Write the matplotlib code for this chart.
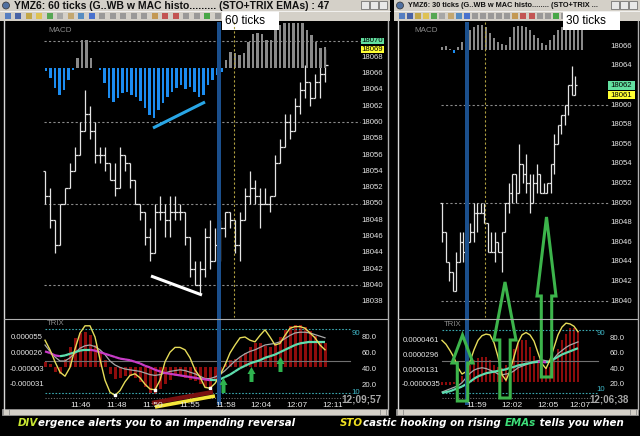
import matplotlib
matplotlib.use("Agg")
import matplotlib.pyplot as plt
import numpy as np
from matplotlib.collections import LineCollection
from matplotlib.patches import Rectangle, Polygon

W, H = 640, 436

# ---------- left window: 60 tick bars ----------
left_first_open = 18054
left_close = [18051, 18048, 18045, 18050, 18052, 18054, 18056, 18059, 18061, 18059,
              18056, 18056, 18055, 18053, 18052, 18056, 18055, 18053, 18050, 18049,
              18046, 18044, 18049, 18049, 18048, 18049, 18049, 18049, 18046, 18042,
              18040, 18042, 18046, 18043, 18045, 18047, 18049, 18048, 18045, 18048,
              18051, 18052, 18051, 18050, 18050, 18051, 18055, 18057, 18060, 18059,
              18062, 18064, 18065, 18063, 18065, 18066, 18067]
left_high = [18054, 18052, 18047, 18050, 18052, 18055, 18057, 18060, 18064, 18062,
             18060, 18057, 18057, 18055, 18055, 18057, 18056, 18055, 18053, 18050,
             18049, 18047, 18050, 18051, 18050, 18051, 18051, 18050, 18048, 18046,
             18043, 18043, 18047, 18048, 18047, 18048, 18049, 18049, 18047, 18049,
             18052, 18054, 18053, 18052, 18052, 18051, 18056, 18058, 18061, 18061,
             18063, 18065, 18067, 18065, 18066, 18068, 18069]
left_low = [18050, 18047, 18044, 18047, 18050, 18052, 18054, 18056, 18059, 18058,
            18055, 18055, 18054, 18053, 18051, 18052, 18054, 18052, 18050, 18048,
            18045, 18043, 18044, 18048, 18046, 18046, 18048, 18048, 18045, 18041,
            18040, 18039, 18041, 18042, 18043, 18043, 18046, 18047, 18044, 18043,
            18048, 18050, 18050, 18047, 18050, 18049, 18051, 18055, 18057, 18058,
            18059, 18061, 18063, 18062, 18063, 18063, 18065]
left_macd = [-3, -10, -20, -27, -22, -12, -2, 10, 28, 28, 10, 0, -2, -15, -30, -34,
             -30, -25, -24, -27, -29, -33, -40, -47, -50, -42, -35, -29, -24, -20,
             -17, -21, -19, -24, -29, -27, -17, -12, -7, -4, 8, 16, 15, 13, 15, 26,
             34, 35, 34, 28, 28, 38, 43, 45, 45, 45, 45, 45, 38, 33, 26, 20, 21]
left_trix = [10, 6, -8, -12, 15, 37, 53, 62, 64, 59, 40, 26, 13, -12, -21, -19, -15,
             -15, -20, -26, -36, -47, -48, -39, -30, -22, -16, -15, -19, -22, -25,
             -30, -36, -35, -25, -8, 6, 14, 16, 18, 27, 37, 44, 45, 39, 37, 42, 56,
             68, 75, 77, 77, 74, 66, 57, 47, 44]
left_k = [76, 64, 49, 36, 31, 42, 65, 85, 94, 94, 80, 52, 26, 11, 7, 13, 24, 32, 34,
          29, 21, 15, 14, 26, 49, 61, 67, 67, 64, 54, 39, 30, 17, 16, 22, 32, 45, 60,
          70, 79, 80, 76, 74, 82, 89, 80, 70, 72, 82, 91, 93, 93, 91, 85, 79, 70, 64]
left_d = [70, 62, 55, 50, 50, 54, 60, 66, 69, 70, 68, 64, 58, 50, 45, 42, 40, 39, 38,
          37, 35, 33, 32, 33, 35, 37, 38, 39, 38, 36, 34, 31, 28, 28, 30, 33, 38, 44,
          50, 55, 59, 62, 64, 67, 70, 71, 72, 74, 78, 82, 85, 86, 86, 85, 83, 81, 79]
left_ema = [62, 60, 57, 56, 57, 59, 61, 63, 64, 64, 63, 61, 59, 57, 55, 53, 52, 51, 49,
            47, 44, 42, 39, 37, 35, 34, 33, 32, 31, 30, 29, 28, 27, 26, 26, 27, 30, 33,
            37, 41, 44, 47, 49, 51, 54, 56, 58, 61, 64, 67, 70, 72, 73, 74, 74, 74, 74]
left_times = ["11:46", "11:48", "11:50", "11:55", "11:58", "12:04", "12:07", "12:11"]
left_price_ticks = list(range(18038, 18069, 2))
left_trix_ticks = [55, 26, -3, -31]          # x 1e-6
left_trix_labels = ["0.000055", "0.000026", "-0.000003", "-0.000031"]

# ---------- right window: 30 tick bars ----------
right_first_open = 18050
right_close = [18047, 18044, 18043, 18041, 18044, 18046, 18045, 18046, 18047, 18049,
               18049, 18049, 18048, 18045, 18045, 18046, 18045, 18047, 18050, 18051,
               18053, 18051, 18054, 18053, 18052, 18050, 18052, 18053, 18051, 18051,
               18052, 18054, 18056, 18058, 18059, 18060, 18062, 18061, 18062]
right_high = [18050, 18047, 18044, 18043, 18045, 18047, 18047, 18046, 18048, 18050,
              18050, 18050, 18050, 18048, 18047, 18047, 18046, 18047, 18050, 18052,
              18053, 18053, 18056, 18054, 18055, 18053, 18053, 18054, 18053, 18052,
              18052, 18054, 18057, 18058, 18059, 18060, 18062, 18064, 18063]
right_low = [18046, 18044, 18042, 18041, 18041, 18044, 18044, 18043, 18046, 18046,
             18047, 18049, 18048, 18045, 18045, 18044, 18045, 18043, 18047, 18049,
             18050, 18050, 18051, 18052, 18051, 18049, 18050, 18051, 18051, 18051,
             18051, 18051, 18053, 18056, 18057, 18058, 18059, 18061, 18061]
right_macd = [3, 4, 1, -3, 3, 8, 15, 20, 23, 25, 25, 23, 17, 12, 8, 6, 5, 13, 23, 24,
              24, 23, 20, 15, 12, 7, 5, 10, 15, 20, 23, 25, 25, 25, 25, 25]
right_trix = [-3, -3, -3, -2, 2, 7, 11, 19, 24, 27, 28, 28, 24, 19, 16, 15, 19, 29, 37,
              43, 47, 46, 39, 29, 21, 16, 15, 17, 25, 37, 47, 53, 60, 60, 56]
right_k = [77, 72, 64, 55, 42, 34, 37, 50, 65, 77, 83, 85, 84, 74, 56, 33, 26, 38, 56,
           74, 84, 87, 84, 76, 61, 47, 41, 52, 68, 84, 94, 99, 98, 95, 88]
right_d = [11, 13, 15, 17, 19, 23, 29, 35, 39, 41, 42, 41, 39, 37, 34, 33, 34, 35, 38,
           42, 44, 46, 48, 50, 51, 52, 51, 50, 54, 60, 64, 68, 71, 73, 75]
right_ema = [10, 11, 12, 14, 16, 18, 21, 24, 28, 31, 33, 35, 36, 37, 38, 39, 40, 42, 43,
             45, 46, 47, 48, 49, 49.5, 49.2, 49, 50, 53, 56, 59, 61, 63, 65, 67]
right_times = ["11:59", "12:02", "12:05", "12:07"]
right_price_ticks = [p for p in range(18040, 18067, 2) if p != 18062]
right_trix_ticks = [46.1, 29.6, 13.1, -3.5]
right_trix_labels = ["0.0000461", "0.0000296", "0.0000131", "-0.0000035"]

stoch_ticks = [80, 60, 40, 20]

FONT = "Liberation Sans"
TXT = "#e6e6e6"
fig = plt.figure(figsize=(W / 100, H / 100), dpi=100, facecolor="black")


def px_axes(x0, y0, x1, y1, ylim):
    ax = fig.add_axes([x0 / W, 1 - y1 / H, (x1 - x0) / W, (y1 - y0) / H])
    ax.set_xlim(x0, x1)
    ax.set_ylim(*ylim)
    ax.set_axis_off()
    return ax


def ohlc(ax, x0, step, first_open, high, low, close):
    opens = [first_open] + list(close[:-1])
    segs = []
    for i, (o, h, l, c) in enumerate(zip(opens, high, low, close)):
        x = x0 + step * i
        segs.append([(x, min(l, o, c)), (x, max(h, o, c))])
        segs.append([(x - step * 0.5, o), (x, o)])
        segs.append([(x, c), (x + step * 0.5, c)])
    ax.add_collection(LineCollection(segs, colors="#e4e4e4", linewidths=0.9))


def macd_bars(ax, x0, step, vals):
    v = np.array(vals, dtype=float)
    xs = x0 + step * np.arange(len(v))
    cols = np.where(v >= 0, "#8a8a8a", "#1c8cf0")
    ax.bar(xs, v, width=step * 0.62, color=cols, linewidth=0)


def slope_line(ax, xs, vals):
    pts = np.column_stack([xs, vals])
    segs = np.stack([pts[:-1], pts[1:]], axis=1)
    cols = ["#5fe0b0" if b >= a else "#c83cc8" for a, b in zip(vals[:-1], vals[1:])]
    ax.add_collection(LineCollection(segs, colors=cols, linewidths=1.6))


def price_panel(x0, x1, ylim, mlim, bx0, bstep, fo, hi, lo, cl, mx0, mstep, macd,
                ticks, lab_x, dash_x1, levels, boxes, box_x):
    ax = px_axes(x0, 22, x1, 317, ylim)
    for lv in levels:
        ax.plot([bx0 - 1, dash_x1], [lv, lv], color="#8a8a8a", lw=0.8, ls=(0, (2, 2)))
    axm = px_axes(x0, 22, x1, 317, mlim)
    macd_bars(axm, mx0, mstep, macd)
    ohlc(ax, bx0, bstep, fo, hi, lo, cl)
    for p in ticks:
        ax.text(lab_x, p, str(p), color=TXT, fontsize=5.6, family=FONT,
                ha="center", va="center")
    for p, fc in boxes:
        ax.add_patch(Rectangle((box_x[0], p - 0.42), box_x[1] - box_x[0], 0.84,
                               fc=fc, ec="none", zorder=4))
        ax.text(lab_x, p, str(p), color="black", fontsize=5.6, family=FONT,
                ha="center", va="center", zorder=5)
    return ax


def indicator_panel(x0, x1, slim, tlim, ix0, istep, trix, k, d, ema, dash_x1,
                    tt, tl, tx, sx):
    axt = px_axes(x0, 320, x1, 399, tlim)
    xs = ix0 + istep * np.arange(len(trix))
    axt.bar(xs, trix, width=istep * 0.6, color="#8e0c0c", linewidth=0)
    for v, s in zip(tt, tl):
        axt.text(tx, v, s, color=TXT, fontsize=5.6, family=FONT, ha="center", va="center")
    axs = px_axes(x0, 320, x1, 399, slim)
    axs.plot([ix0, dash_x1], [50, 50], color="#707070", lw=0.8)
    for lv in (90, 10):
        axs.plot([ix0, dash_x1], [lv, lv], color="#3aa8b0", lw=0.8, ls=(0, (1.5, 1.5)))
    axs.plot([ix0, dash_x1 - 5], [slim[0] + 0.8] * 2, color="#707070", lw=0.8, ls=(0, (1, 1.5)))
    xs = ix0 + istep * np.arange(len(k))
    axs.plot(xs, d, color="#a8a8a8", lw=0.9)
    slope_line(axs, xs, ema)
    axs.plot(xs, k, color="#e6dc5a", lw=1.0)
    for v in stoch_ticks:
        axs.text(sx, v, f"{v:.1f}", color=TXT, fontsize=5.6, family=FONT,
                 ha="center", va="center")
    axs.text(ix0 + 2, 97, "TRIX", color="#8a8a8a", fontsize=5.6, family=FONT,
             ha="left", va="center")
    return axs, xs


# left window
price_panel(5, 388, (18036.13, 18072.33), (-249, 46), 45, 5, left_first_open,
            left_high, left_low, left_close, 46, 4.5, left_macd, left_price_ticks,
            372, 360, [18070, 18060, 18050, 18040],
            [(18070, "#63e0a0"), (18069, "#ffff33")], (361, 384))
axl, xl = indicator_panel(5, 388, (2.5, 101.25), (-57.2, 85.9), 45, 5, left_trix,
                          left_k, left_d, left_ema, 350, left_trix_ticks,
                          left_trix_labels, 27, 369)
lk = np.array(left_k)
mins = [i for i in range(1, len(lk) - 1) if lk[i] <= lk[i - 1] and lk[i] < lk[i + 1] and lk[i] < 30]
axl.scatter(xl[mins], lk[mins], s=4, marker="s", color="white", zorder=6)

# right window
price_panel(397, 637, (18038.37, 18068.47), (-267, 28), 442, 3.5, right_first_open,
            right_high, right_low, right_close, 442, 4, right_macd, right_price_ticks,
            621, 608, [18060, 18050, 18040],
            [(18062, "#63e0a0"), (18061, "#ffff33")], (608, 635))
indicator_panel(397, 637, (2.1, 103), (-19.1, 68.7), 442, 4, right_trix, right_k,
                right_d, right_ema, 598, right_trix_ticks, right_trix_labels, 421, 617)

# ---------- overlay in pixel coordinates ----------
ov = fig.add_axes([0, 0, 1, 1], zorder=10)
ov.set_xlim(0, W)
ov.set_ylim(H, 0)
ov.set_axis_off()
ov.patch.set_alpha(0)
renderer = fig.canvas.get_renderer()


def text_width(s, size, **style):
    t = ov.text(0, 0, s, fontsize=size, **style)
    w = t.get_window_extent(renderer).width
    t.remove()
    return w


def fitted_text(x, y, s, width, **style):
    size = 10 * width / text_width(s, 10, **style)
    ov.text(x, y, s, fontsize=size, **style)


GREY = "#d4d0c8"
for x0, x1 in ((0, 390), (394, 640)):
    ov.add_patch(Rectangle((x0, 0), x1 - x0, 21, fc=GREY, ec="none"))
    ov.add_patch(Rectangle((x0 + 2, 409), x1 - x0 - 4, 6, fc=GREY, ec="#9a9a9a", lw=0.5))
    ov.add_patch(Rectangle((x0 + 3, 409), 6, 6, fc=GREY, ec="#808080", lw=0.5))
    ov.add_patch(Rectangle((x1 - 10, 409), 6, 6, fc=GREY, ec="#808080", lw=0.5))
    ov.plot([x0 + 4, x0 + 4], [21, 409], color="#d8d8d8", lw=1.0)
    ov.plot([x1 - 2, x1 - 2], [21, 409], color="#b0b0b0", lw=1.0)
    ov.plot([x0 + 4, x1 - 2], [318.5, 318.5], color="#b0b0b0", lw=0.8)
    ov.plot([x0, x1], [11, 11], color="#ffffff", lw=0.5)
    ov.add_patch(plt.Circle((x0 + 6, 5.5), 3.5, fc="#5070a0", ec="#303030", lw=0.5))
    for j in range(3):
        bx = x1 - 29 + 9 * j
        ov.add_patch(Rectangle((bx, 1.5), 8, 8, fc="#e8e8e8", ec="#606060", lw=0.5))
    icon_cols = ["#4070c0", "#3050a0", "#c0a030", "#e0c040", "#40a040", "#a0a0a0",
                 "#c0a060", "#4080c0", "#3060d0", "#909090", "#909090", "#909090",
                 "#909090", "#909090", "#c09040", "#c04040", "#c04040", "#909090",
                 "#909090", "#30a030", "#909090"]
    span = 220 if x0 == 0 else 170
    for j, c in enumerate(icon_cols):
        ix = x0 + 5 + j * span / len(icon_cols)
        if ix > x0 + span:
            break
        ov.add_patch(Rectangle((ix, 13), 6, 6, fc=c, ec="none", alpha=0.85))

title_style = dict(family=FONT, fontweight="bold", color="#101010", va="center")
fitted_text(14, 5.8, "YMZ6: 60 ticks (G..WB w MAC histo......... (STO+TRIX EMAs) : 47",
            316, **title_style)
fitted_text(408, 5.8, "YMZ6: 30 ticks (G..WB w MAC histo........ (STO+TRIX ...",
            190, **title_style)

for bx, label in ((222, "60 ticks"), (563, "30 ticks")):
    ov.add_patch(Rectangle((bx, 12), 57, 18, fc="white", ec="none"))
    ov.text(bx + 3, 21.5, label, fontsize=8.5, family=FONT, color="black", va="center")

for x, y in ((48, 30), (414, 30)):
    ov.text(x, y, "MACD", fontsize=5.8, family=FONT, color="#8a8a8a", va="center")

# entry bands and cursor lines
for bx, cx in ((217, 234), (465, 485)):
    ov.add_patch(Rectangle((bx, 22), 4, 383, fc="#1b4f8c", ec="none"))
    ov.plot([cx, cx], [22, 317], color="#b0a040", lw=0.8, ls=(0, (2, 2)))

# stochastic 90/10 tags and time stamps
for x in (356, 601):
    ov.text(x, 333, "90", fontsize=5.6, family=FONT, color="#3fb8c8", ha="center", va="center")
ov.text(356, 392, "10", fontsize=5.6, family=FONT, color="#3fb8c8", ha="center", va="center")
ov.text(601, 389, "10", fontsize=5.6, family=FONT, color="#3fb8c8", ha="center", va="center")
ov.text(362, 399.5, "12;09;57", fontsize=7.2, family=FONT, fontweight="bold",
        color="#a8a8a8", ha="center", va="center")
ov.text(609, 399.5, "12;06;38", fontsize=7, family=FONT, fontweight="bold",
        color="#a8a8a8", ha="center", va="center")

left_time_x = [81, 117, 153, 190, 226, 261, 297, 333]
right_time_x = [477, 512, 548, 580]
for x, t in zip(left_time_x, left_times):
    ov.text(x, 405, t, fontsize=6, family=FONT, color=TXT, ha="center", va="center")
for x, t in zip(right_time_x, right_times):
    ov.text(x, 405.5, t, fontsize=6, family=FONT, color=TXT, ha="center", va="center")

# divergence trend lines
ov.plot([153, 205], [128, 102], color="#29a6e6", lw=2.2, solid_capstyle="butt")
ov.plot([151, 202], [276, 295], color="white", lw=2.2, solid_capstyle="butt")
ov.plot([152, 213], [403, 392], color="#7a1010", lw=3.2, solid_capstyle="butt")
ov.plot([155, 215], [407, 396], color="#f5e63a", lw=2.6, solid_capstyle="butt")


def up_arrow(x, tip, base, bottom, head, shaft):
    return [(x, tip), (x + head, base), (x + shaft, base), (x + shaft, bottom),
            (x - shaft, bottom), (x - shaft, base), (x - head, base)]


for x, tip in ((223.5, 378), (251.5, 367), (280.5, 357)):
    ov.add_patch(Polygon(up_arrow(x, tip, tip + 7, tip + 15, 4, 2),
                         closed=True, fc="#2fb34f", ec="none"))
for x, tip, base, bottom, head in ((462.5, 335, 363, 401, 10.5), (505, 282, 340, 398, 11),
                                   (546.5, 217, 296, 377, 9.5)):
    ov.add_patch(Polygon(up_arrow(x, tip, base, bottom, head, 5.2), closed=True,
                         fill=False, ec="#3cb44b", lw=2.2, joinstyle="miter"))

# captions
cap_style = dict(family="DejaVu Sans", fontweight="bold", fontstyle="italic", va="center")


def caption(x, y, parts, width):
    full = "".join(s for s, _ in parts)
    size = 10 * width / text_width(full, 10, **cap_style)
    prefix = ""
    for s, c in parts:
        prefix += s
        ov.text(x + text_width(prefix, size, **cap_style) - text_width(s, size, **cap_style),
                y, s, fontsize=size, color=c, **cap_style)


caption(18, 423, [("DIV", "#c8e632"), ("ergence alerts you to an impending reversal", "white")], 277)
caption(340, 423, [("STO", "#f0e020"), ("castic hooking on rising ", "white"),
                   ("EMAs", "#3ee07a"), (" tells you when", "white")], 283)

fig.savefig("out.png", dpi=100, facecolor="black")
